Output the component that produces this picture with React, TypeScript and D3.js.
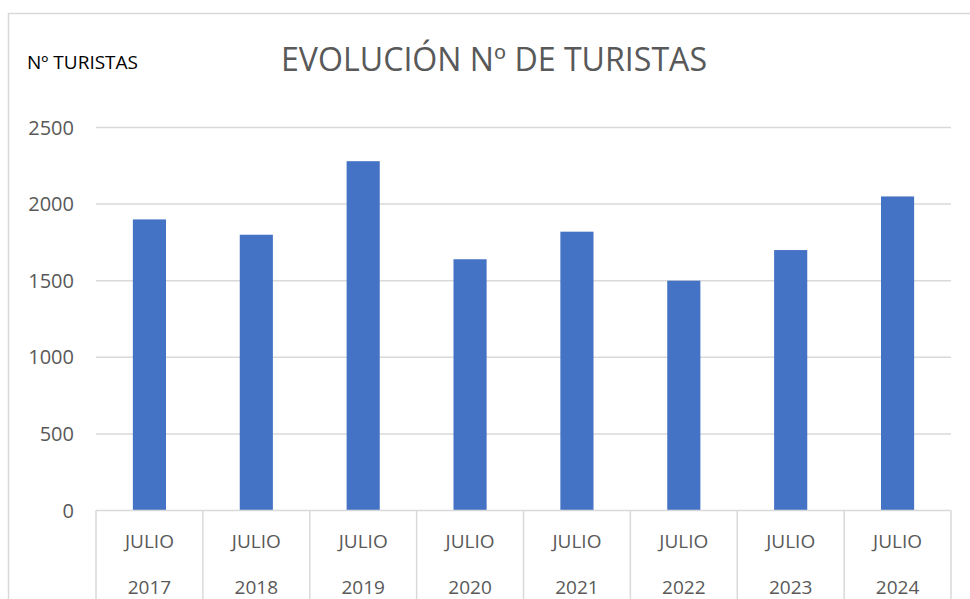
import React from "react";
import * as d3 from "d3";

// datos
const years = ["2017", "2018", "2019", "2020", "2021", "2022", "2023", "2024"];
const month = "JULIO";
const tourists = [1900, 1800, 2280, 1640, 1820, 1500, 1700, 2050];
const yTicks = [0, 500, 1000, 1500, 2000, 2500];

const width = 970;
const height = 599;
const font = "'Open Sans', 'Noto Sans', sans-serif";
const grey = "#595959";
const gridColor = "#d9d9d9";

const App = () => {
    const x = d3.scaleBand<string>().domain(years).range([96, 951]).paddingInner(0.69).paddingOuter(0.345);
    const y = d3.scaleLinear().domain([0, 2500]).range([510.5, 127.5]);
    const step = x.step();
    const left = 96;

    return (
        <div style={{ position: "absolute", left: 0, top: 0 }}>
            <svg width={width} height={height} style={{ display: "block", background: "#fff" }}>
                {/* marco del gráfico */}
                <rect x={8.5} y={13.5} width={1100} height={1100} fill="#fff" stroke={gridColor} strokeWidth={1.5} />

                <text x={27} y={69} fontFamily={font} fontSize={19} fill="#000">Nº TURISTAS</text>
                <text x={281} y={71} fontFamily={font} fontSize={32} fill={grey} textLength={426} lengthAdjust="spacingAndGlyphs">
                    EVOLUCIÓN Nº DE TURISTAS
                </text>

                {/* líneas de cuadrícula */}
                {yTicks.filter((t) => t > 0).map((t) => (
                    <line key={t} x1={left} x2={951} y1={y(t)} y2={y(t)} stroke={gridColor} strokeWidth={1.5} />
                ))}
                {yTicks.map((t) => (
                    <text key={"l" + t} x={74} y={y(t) + 7} textAnchor="end" fontFamily={font} fontSize={20} fill={grey}>
                        {t}
                    </text>
                ))}

                {/* barras */}
                {tourists.map((v, i) => (
                    <rect key={years[i]} x={x(years[i])} y={y(v)} width={x.bandwidth()} height={y(0) - y(v)} fill="#4472C4" />
                ))}

                {/* eje de categorías de dos niveles */}
                <line x1={left} x2={951} y1={y(0)} y2={y(0)} stroke={gridColor} strokeWidth={1.5} />
                {d3.range(years.length + 1).map((i) => (
                    <line key={"t" + i} x1={left + i * step} x2={left + i * step} y1={y(0)} y2={height} stroke={gridColor} strokeWidth={1.5} />
                ))}
                {years.map((yr) => {
                    const cx = (x(yr) as number) + x.bandwidth() / 2;
                    return (
                        <g key={"c" + yr} fontFamily={font} fontSize={19} fill={grey} textAnchor="middle">
                            <text x={cx} y={548}>{month}</text>
                            <text x={cx} y={594}>{yr}</text>
                        </g>
                    );
                })}
            </svg>
        </div>
    );
};

export default App;
